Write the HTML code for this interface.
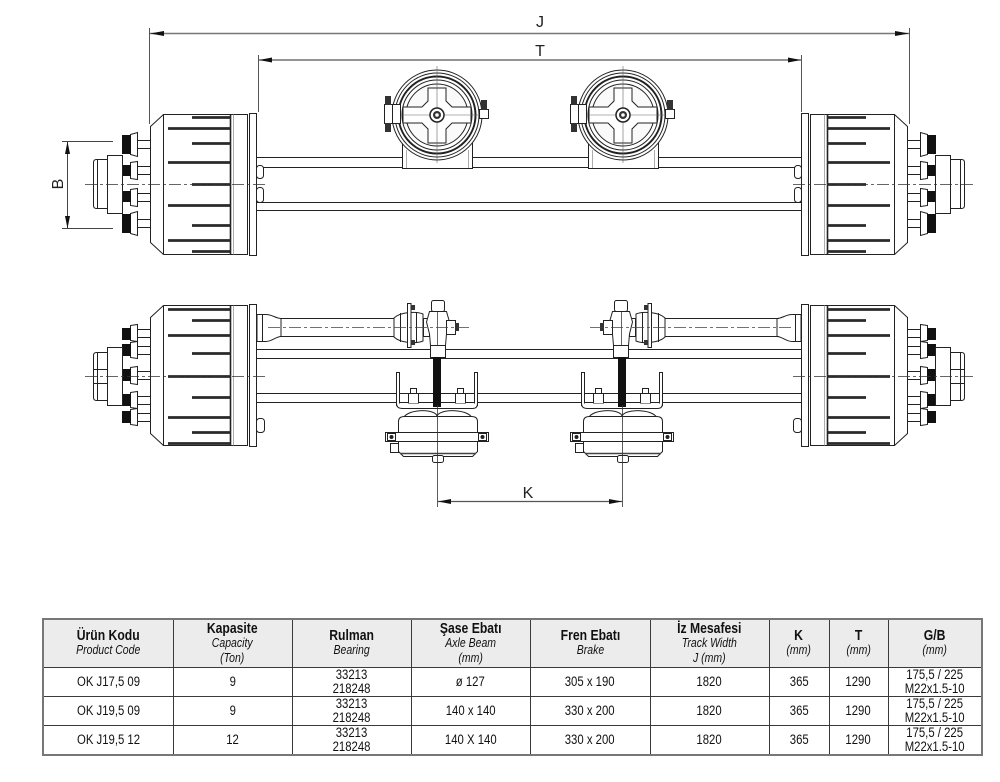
<!DOCTYPE html>
<html><head><meta charset="utf-8">
<style>
html,body{margin:0;padding:0;background:#fff;}
body{width:1000px;height:782px;position:relative;overflow:hidden;}
svg{position:absolute;left:0;top:0;}
table{position:absolute;left:42px;top:618px;border-collapse:collapse;table-layout:fixed;font-family:"Liberation Sans Narrow","Liberation Sans",Arial,sans-serif;color:#111;border:2px solid #777;}
td{border:1px solid #3a3a3a;text-align:center;vertical-align:middle;padding:0;font-size:13.5px;line-height:14px;white-space:nowrap;overflow:visible;}
td span{display:inline-block;transform:scaleX(0.84);transform-origin:50% 50%;}
tr.h td{background:#ececec;line-height:14.5px;}
td b{font-size:14.5px;}
td i{font-size:12.5px;}
</style></head><body>
<svg width="1000" height="612" viewBox="0 0 1000 612" xmlns="http://www.w3.org/2000/svg">
<defs>
 <g id="drum" stroke="#222" stroke-width="1" fill="#fff">
   <rect x="249.5" y="113.5" width="7" height="142"/>
   <path d="M163.5,114.5 H247.5 V254.5 H163.5 L150.5,242.5 V126.5 Z"/>
   <line x1="163.5" y1="114.5" x2="163.5" y2="254.5"/>
   <line x1="230.5" y1="114.5" x2="230.5" y2="254.5" stroke-width="1.6"/>
   <line x1="233.5" y1="114.5" x2="233.5" y2="254.5" stroke="#999" stroke-width="0.8"/>
 </g>

 <g id="hubT">
   <use href="#drum"/>
   <g stroke="#2a2a2a" stroke-width="2.8">
     <line x1="192" y1="117.5" x2="231" y2="117.5"/>
     <line x1="168" y1="128.5" x2="231" y2="128.5"/>
     <line x1="192" y1="143.5" x2="231" y2="143.5"/>
     <line x1="168" y1="162.5" x2="231" y2="162.5"/>
     <line x1="192" y1="184.5" x2="231" y2="184.5"/>
     <line x1="168" y1="205.5" x2="231" y2="205.5"/>
     <line x1="192" y1="225.5" x2="231" y2="225.5"/>
     <line x1="168" y1="240.5" x2="231" y2="240.5"/>
     <line x1="192" y1="251.5" x2="231" y2="251.5"/>
   </g>
   <g stroke="#222" stroke-width="1" fill="#fff">
     <rect x="137.5" y="140.5" width="13" height="8"/>
     <rect x="137.5" y="166.5" width="13" height="8"/>
     <rect x="137.5" y="193.5" width="13" height="8"/>
     <rect x="137.5" y="219.5" width="13" height="8"/>
     <path d="M130.5,134.5 L137.5,132.5 V156.5 L130.5,154.5 Z"/>
     <path d="M130.5,162.5 L137.5,161.5 V179.5 L130.5,178.5 Z"/>
     <path d="M130.5,189.5 L137.5,188.5 V206.5 L130.5,205.5 Z"/>
     <path d="M130.5,213.5 L137.5,211.5 V235.5 L130.5,233.5 Z"/>
   </g>
   <g fill="#111">
     <rect x="122" y="135" width="9" height="19"/>
     <rect x="122" y="165" width="9" height="11"/>
     <rect x="122" y="191" width="9" height="11"/>
     <rect x="122" y="214" width="9" height="19"/>
   </g>
   <g stroke="#222" fill="#fff">
     <rect x="107.5" y="155.5" width="15" height="58"/>
     <path d="M107.5,159.5 H96.5 Q93.5,159.5 93.5,162.5 V205.5 Q93.5,208.5 96.5,208.5 H107.5 Z"/>
     <line x1="97.5" y1="159.5" x2="97.5" y2="208.5"/>
   </g>
   <g stroke="#222" fill="#fff">
     <rect x="256.5" y="165.5" width="7" height="13" rx="3"/>
     <rect x="256.5" y="187.5" width="7" height="15" rx="3"/>
   </g>
   <line x1="85" y1="184.5" x2="266" y2="184.5" stroke="#333" stroke-width="0.8" stroke-dasharray="12 3 3 3"/>
 </g>

 <g id="hubB">
   <use href="#drum" transform="translate(0,191)"/>
   <g stroke="#2a2a2a" stroke-width="2.8">
     <line x1="168" y1="309.5" x2="231" y2="309.5"/>
     <line x1="192" y1="320.5" x2="231" y2="320.5"/>
     <line x1="168" y1="335.5" x2="231" y2="335.5"/>
     <line x1="192" y1="353.5" x2="231" y2="353.5"/>
     <line x1="168" y1="376.5" x2="231" y2="376.5"/>
     <line x1="192" y1="397.5" x2="231" y2="397.5"/>
     <line x1="168" y1="417.5" x2="231" y2="417.5"/>
     <line x1="192" y1="432.5" x2="231" y2="432.5"/>
     <line x1="168" y1="443.5" x2="231" y2="443.5"/>
   </g>
   <g stroke="#222" stroke-width="1" fill="#fff">
     <rect x="137.5" y="329.5" width="13" height="8"/>
     <rect x="137.5" y="346.5" width="13" height="8"/>
     <rect x="137.5" y="371.5" width="13" height="8"/>
     <rect x="137.5" y="396.5" width="13" height="8"/>
     <rect x="137.5" y="413.5" width="13" height="8"/>
     <path d="M130.5,325.5 L137.5,324.5 V341.5 L130.5,340.5 Z"/>
     <path d="M130.5,342.5 L137.5,341.5 V358.5 L130.5,357.5 Z"/>
     <path d="M130.5,367.5 L137.5,366.5 V384.5 L130.5,383.5 Z"/>
     <path d="M130.5,392.5 L137.5,391.5 V408.5 L130.5,407.5 Z"/>
     <path d="M130.5,409.5 L137.5,408.5 V425.5 L130.5,424.5 Z"/>
   </g>
   <g fill="#111">
     <rect x="122" y="328" width="9" height="12"/>
     <rect x="122" y="344" width="9" height="12"/>
     <rect x="122" y="369" width="9" height="12"/>
     <rect x="122" y="394" width="9" height="12"/>
     <rect x="122" y="411" width="9" height="12"/>
   </g>
   <g stroke="#222" fill="#fff">
     <rect x="107.5" y="347.5" width="15" height="58"/>
     <path d="M107.5,352.5 H96.5 Q93.5,352.5 93.5,355.5 V397.5 Q93.5,400.5 96.5,400.5 H107.5 Z"/>
     <line x1="93.5" y1="369.5" x2="107.5" y2="369.5"/>
     <line x1="93.5" y1="383.5" x2="107.5" y2="383.5"/>
     <line x1="97.5" y1="352.5" x2="97.5" y2="400.5"/>
     <path d="M257,314.5 H266 C272,314.5 276,318.5 281,318.5 V336.5 C276,336.5 272,341.5 266,341.5 H257 Z"/>
     <line x1="262.5" y1="314.5" x2="262.5" y2="341.5"/>
     <rect x="256.5" y="418.5" width="8" height="14" rx="3"/>
   </g>
   <line x1="85" y1="376.5" x2="268" y2="376.5" stroke="#333" stroke-width="0.8" stroke-dasharray="12 3 3 3"/>
 </g>

 <g id="chT">
   <path d="M402.5,140 V168.5 H472.5 V140 Z" fill="#fff" stroke="#222"/>
   <line x1="406.5" y1="150" x2="406.5" y2="168" stroke="#888" stroke-width="0.7"/>
   <line x1="468.5" y1="150" x2="468.5" y2="168" stroke="#888" stroke-width="0.7"/>
   <circle cx="437" cy="115" r="45" fill="#fff" stroke="#222"/>
   <circle cx="437" cy="115" r="42" fill="none" stroke="#222"/>
   <circle cx="437" cy="115" r="38.5" fill="none" stroke="#222" stroke-width="2"/>
   <circle cx="437" cy="115" r="35" fill="none" stroke="#222"/>
   <circle cx="437" cy="115" r="31" fill="#fafafa" stroke="#222"/>
   <path d="M428,88 H446 V101 L452,107 H471 V123 H452 L446,129 V143 H428 V129 L422,123 H403 V107 H422 L428,101 Z" fill="#fff" stroke="#222"/>
   <line x1="395" y1="115" x2="480" y2="115" stroke="#666" stroke-width="0.6"/>
   <line x1="437" y1="66" x2="437" y2="163" stroke="#666" stroke-width="0.6"/>
   <circle cx="437" cy="115" r="7" fill="#fff" stroke="#222" stroke-width="1.5"/>
   <circle cx="437" cy="115" r="4" fill="#333"/>
   <circle cx="437" cy="115" r="1.8" fill="#fff"/>
   <rect x="384.5" y="104.5" width="16" height="19" fill="#fff" stroke="#222"/>
   <line x1="392.5" y1="104.5" x2="392.5" y2="123.5" stroke="#222"/>
   <rect x="385" y="96" width="6" height="9" fill="#333"/>
   <rect x="385" y="123" width="6" height="9" fill="#333"/>
   <rect x="479.5" y="109.5" width="9" height="9" fill="#fff" stroke="#222"/>
   <rect x="481" y="100" width="6" height="10" fill="#333"/>
 </g>

 <g id="chB">
   <g fill="#fff" stroke="#222">
     <rect x="408.5" y="393.5" width="10" height="10"/>
     <rect x="410.5" y="388.5" width="6" height="5"/>
     <rect x="455.5" y="393.5" width="10" height="10"/>
     <rect x="457.5" y="388.5" width="6" height="5"/>
     <rect x="396.5" y="372.5" width="3" height="33"/>
     <rect x="474.5" y="372.5" width="3" height="33"/>
     <path d="M396.5,403.5 Q396.5,408.5 402.5,408.5 H472.5 Q477.5,408.5 477.5,403.5"/>
     <path d="M402.5,421 C402.5,408 438,408 437,417 C437,408 473,408 473,421 Z"/>
     <path d="M398.5,432.5 V421.5 Q398.5,416.5 404.5,416.5 H471.5 Q477.5,416.5 477.5,421.5 V432.5 Z"/>
     <rect x="385.5" y="432.5" width="103" height="9"/>
     <rect x="387.5" y="433.5" width="8" height="7"/>
     <rect x="478.5" y="433.5" width="8" height="7"/>
     <path d="M398.5,441.5 V451.5 L403.5,456.5 H472.5 L477.5,451.5 V441.5 Z"/>
     <rect x="390.5" y="443.5" width="8" height="9"/>
     <rect x="432.5" y="455.5" width="11" height="7" rx="2"/>
   </g>
   <circle cx="391.5" cy="437" r="2" fill="#222"/>
   <circle cx="482.5" cy="437" r="2" fill="#222"/>
   <line x1="400" y1="453.5" x2="476" y2="453.5" stroke="#444" stroke-width="1.5"/>
 </g>

 <g id="slk">
   <line x1="280" y1="318.5" x2="395" y2="318.5" stroke="#222"/>
   <line x1="280" y1="336.5" x2="395" y2="336.5" stroke="#222"/>
   <g fill="#fff" stroke="#222">
     <path d="M394,318 C400,312 416,311 423,314 V341 C416,344 400,343 394,337 Z"/>
     <line x1="400.5" y1="313" x2="400.5" y2="342"/>
     <line x1="416.5" y1="312" x2="416.5" y2="343"/>
     <rect x="407.5" y="303.5" width="3.5" height="44"/>
     <rect x="423.5" y="318.5" width="6" height="18"/>
     <rect x="431.5" y="300.5" width="13" height="11" rx="2"/>
     <path d="M429.5,311.5 H446.5 L449.5,322 L446.5,334 L445.5,345.5 H430.5 L429.5,334 L426.5,322 Z"/>
     <line x1="437.5" y1="312" x2="437.5" y2="345" stroke="#666"/>
     <rect x="430.5" y="345.5" width="15" height="12"/>
     <rect x="446.5" y="320.5" width="9" height="14"/>
   </g>
   <rect x="411" y="305" width="4" height="5" fill="#333"/>
   <rect x="411" y="340" width="4" height="5" fill="#333"/>
   <rect x="455" y="323" width="4" height="8" fill="#333"/>
   <rect x="433" y="357" width="8" height="50" fill="#111"/>
   <line x1="268" y1="327.5" x2="470" y2="327.5" stroke="#444" stroke-width="0.8" stroke-dasharray="12 3 3 3"/>
 </g>
</defs>

<g stroke="#555" stroke-width="1">
  <line x1="149.5" y1="28" x2="149.5" y2="124"/>
  <line x1="909.5" y1="28" x2="909.5" y2="124"/>
  <line x1="258.5" y1="55" x2="258.5" y2="112"/>
  <line x1="801.5" y1="55" x2="801.5" y2="112"/>
</g>
<line x1="150" y1="33.5" x2="909" y2="33.5" stroke="#777" stroke-width="1.6"/>
<line x1="259" y1="60" x2="801" y2="60" stroke="#555" stroke-width="1.2"/>
<g fill="#111">
  <polygon points="150,33.5 164,31 164,36"/>
  <polygon points="909,33.5 895,31 895,36"/>
  <polygon points="259,60 272,57.5 272,62.5"/>
  <polygon points="801,60 788,57.5 788,62.5"/>
</g>
<g font-family="Liberation Sans, Arial, sans-serif" font-size="16" fill="#222" text-anchor="middle">
  <text x="540" y="27">J</text>
  <text x="540" y="56">T</text>
  <text x="528" y="498">K</text>
  <text transform="translate(63,184) rotate(-90)">B</text>
</g>

<g stroke="#444" stroke-width="1">
  <line x1="67.5" y1="142" x2="67.5" y2="228"/>
  <line x1="62" y1="141.5" x2="113" y2="141.5"/>
  <line x1="62" y1="228.5" x2="113" y2="228.5"/>
</g>
<polygon points="67.5,141.5 65,154 70,154" fill="#111"/>
<polygon points="67.5,228.5 65,216 70,216" fill="#111"/>

<g stroke="#222" stroke-width="1">
  <line x1="256" y1="157.5" x2="802" y2="157.5"/>
  <line x1="256" y1="167.5" x2="802" y2="167.5"/>
  <line x1="256" y1="202.5" x2="802" y2="202.5"/>
  <line x1="256" y1="210.5" x2="802" y2="210.5"/>
</g>
<use href="#hubT"/>
<use href="#hubT" transform="translate(1058,0) scale(-1,1)"/>
<use href="#chT"/>
<use href="#chT" transform="translate(186,0)"/>

<g stroke="#222" stroke-width="1">
  <line x1="256" y1="349.5" x2="802" y2="349.5"/>
  <line x1="256" y1="358.5" x2="802" y2="358.5"/>
  <line x1="256" y1="393.5" x2="802" y2="393.5"/>
  <line x1="256" y1="402.5" x2="802" y2="402.5"/>
</g>
<use href="#hubB"/>
<use href="#hubB" transform="translate(1058,0) scale(-1,1)"/>
<use href="#chB"/>
<use href="#chB" transform="translate(185,0)"/>
<use href="#slk"/>
<use href="#slk" transform="translate(1059,0) scale(-1,1)"/>

<g stroke="#333" stroke-width="0.8">
  <line x1="437.5" y1="405" x2="437.5" y2="507"/>
  <line x1="622.5" y1="405" x2="622.5" y2="507"/>
</g>
<line x1="438" y1="501.5" x2="622" y2="501.5" stroke="#555" stroke-width="1.2"/>
<polygon points="438,501.5 451,499 451,504" fill="#111"/>
<polygon points="622,501.5 609,499 609,504" fill="#111"/>
</svg>

<table>
<colgroup>
<col style="width:130px"><col style="width:119px"><col style="width:119px"><col style="width:119px"><col style="width:120px"><col style="width:119px"><col style="width:60px"><col style="width:59px"><col style="width:94px">
</colgroup>
<tr class="h" style="height:48px">
<td><span><b>Ürün Kodu</b><br><i>Product Code</i></span></td>
<td><span><b>Kapasite</b><br><i>Capacity</i><br><i>(Ton)</i></span></td>
<td><span><b>Rulman</b><br><i>Bearing</i></span></td>
<td><span><b>Şase Ebatı</b><br><i>Axle Beam</i><br><i>(mm)</i></span></td>
<td><span><b>Fren Ebatı</b><br><i>Brake</i></span></td>
<td><span><b>İz Mesafesi</b><br><i>Track Width</i><br><i>J (mm)</i></span></td>
<td><span><b>K</b><br><i>(mm)</i></span></td>
<td><span><b>T</b><br><i>(mm)</i></span></td>
<td><span><b>G/B</b><br><i>(mm)</i></span></td>
</tr>
<tr style="height:29px">
<td><span>OK J17,5 09</span></td><td><span>9</span></td><td><span>33213<br>218248</span></td><td><span>ø 127</span></td><td><span>305 x 190</span></td><td><span>1820</span></td><td><span>365</span></td><td><span>1290</span></td><td><span>175,5 / 225<br>M22x1.5-10</span></td>
</tr>
<tr style="height:29px">
<td><span>OK J19,5 09</span></td><td><span>9</span></td><td><span>33213<br>218248</span></td><td><span>140 x 140</span></td><td><span>330 x 200</span></td><td><span>1820</span></td><td><span>365</span></td><td><span>1290</span></td><td><span>175,5 / 225<br>M22x1.5-10</span></td>
</tr>
<tr style="height:29px">
<td><span>OK J19,5 12</span></td><td><span>12</span></td><td><span>33213<br>218248</span></td><td><span>140 X 140</span></td><td><span>330 x 200</span></td><td><span>1820</span></td><td><span>365</span></td><td><span>1290</span></td><td><span>175,5 / 225<br>M22x1.5-10</span></td>
</tr>
</table>
</body></html>
